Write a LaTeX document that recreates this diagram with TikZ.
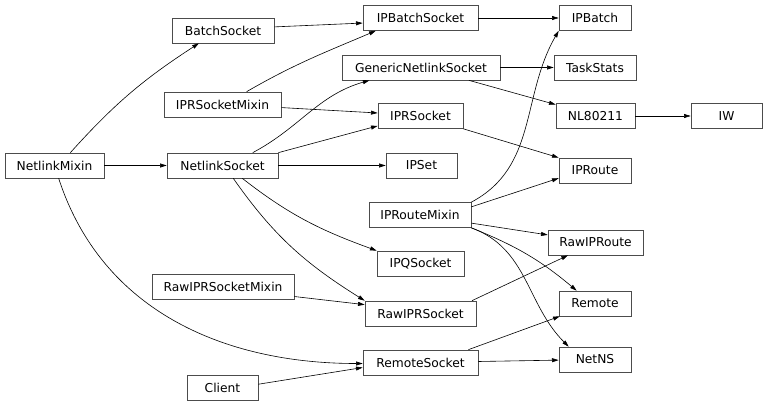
\documentclass[tikz,border=0pt]{standalone}
\usepackage{fontspec}
\setmainfont{DejaVu Sans}
\usetikzlibrary{arrows.meta}

\begin{document}
\begin{tikzpicture}[
  x=0.75pt, y=0.75pt,
  font=\fontsize{9.2}{11}\selectfont, >={Triangle[length=5pt,width=3pt]},
  cls/.style={draw=black!70, line width=0.5pt, inner sep=0pt,
              minimum width=#1*0.75pt, minimum height=18.75pt},
  arr/.style={->, line width=0.45pt},
]
\useasboundingbox (0,0) rectangle (768,406);

\node[cls=99]  (nlMixin)     at (54.5,240.5)  {NetlinkMixin};
\node[cls=102] (batchSock)   at (223,375.5)   {BatchSocket};
\node[cls=117] (iprMixin)    at (222.5,301.5) {IPRSocketMixin};
\node[cls=111] (nlSock)      at (222.5,240.5) {NetlinkSocket};
\node[cls=142] (rawMixin)    at (223,119.5)   {RawIPRSocketMixin};
\node[cls=71]  (client)      at (222.5,18)    {Client};
\node[cls=115] (ipBatchSock) at (420.5,388)   {IPBatchSocket};
\node[cls=158] (genSock)     at (421,338.5)   {GenericNetlinkSocket};
\node[cls=85]  (iprSock)     at (420.5,290)   {IPRSocket};
\node[cls=71]  (ipSet)       at (421.5,240.5) {IPSet};
\node[cls=102] (routeMixin)  at (420,191)     {IPRouteMixin};
\node[cls=87]  (ipqSock)     at (420.5,142.5) {IPQSocket};
\node[cls=111] (rawSock)     at (420.5,92.5)  {RawIPRSocket};
\node[cls=115] (remoteSock)  at (420.5,43.5)  {RemoteSocket};
\node[cls=72]  (ipBatch)     at (595,388)     {IPBatch};
\node[cls=82]  (taskStats)   at (595,338.5)   {TaskStats};
\node[cls=79]  (nl80211)     at (595.5,290)   {NL80211};
\node[cls=72]  (ipRoute)     at (595,235.5)   {IPRoute};
\node[cls=95]  (rawRoute)    at (595.5,163.5) {RawIPRoute};
\node[cls=72]  (remote)      at (595,102.5)   {Remote};
\node[cls=72]  (netns)       at (595,46.5)    {NetNS};
\node[cls=71]  (iw)          at (726.5,290)   {IW};

% left column
\draw[arr] (nlMixin.39) to[out=48,in=213] (batchSock.208);
\draw[arr] (nlMixin) -- (nlSock);
\draw[arr] (nlMixin) to[out=-72,in=180] (remoteSock.181);
\draw[arr] (batchSock.4) -- (ipBatchSock.185);
\draw[arr] (iprMixin.28) to[out=30,in=203] (ipBatchSock.196);
\draw[arr] (iprMixin.-3) -- (iprSock.176);
\draw[arr] (nlSock.23) to[out=28,in=196] (genSock.194);
\draw[arr] (nlSock.north east) -- (iprSock.193);
\draw[arr] (nlSock) -- (ipSet);
\draw[arr] (nlSock.-33) to[out=-38,in=160] (ipqSock.north west);
\draw[arr] (nlSock.-50) to[out=-55,in=148] (rawSock.north west);
\draw[arr] (rawMixin.-8) -- (rawSock.171);
\draw[arr] (client.6) -- (remoteSock.185);

% middle column
\draw[arr] (ipBatchSock) -- (ipBatch);
\draw[arr] (genSock) -- (taskStats);
\draw[arr] (genSock.-15) -- (nl80211.164);
\draw[arr] (iprSock.south east) -- (ipRoute.north west);
\draw[arr] (routeMixin.north east) to[out=28,in=-120] (ipBatch.south west);
\draw[arr] (routeMixin.9) -- (ipRoute.192);
\draw[arr] (routeMixin.-9) -- (rawRoute.171);
\draw[arr] (routeMixin.south east) to[out=-22,in=140] (remote.145);
\draw[arr] (routeMixin.south east) to[out=-20,in=135] (netns.154);
\draw[arr] (rawSock.14) -- (rawRoute.205);
\draw[arr] (remoteSock.15) -- (remote.200);
\draw[arr] (remoteSock) -- (netns);

% right column
\draw[arr] (nl80211) -- (iw);
\end{tikzpicture}
\end{document}
